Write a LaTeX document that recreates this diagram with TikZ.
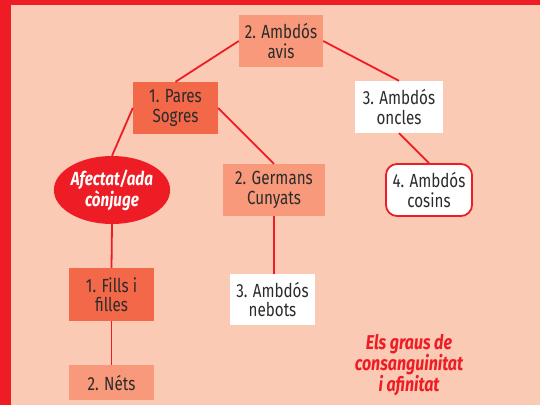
\documentclass[tikz,border=0pt]{standalone}
\usepackage{fontspec}
\setmainfont{Fira Sans}[FakeStretch=0.8]
\usetikzlibrary{shapes.geometric}
\definecolor{fons}{HTML}{FBCAB4}
\definecolor{vermell}{HTML}{EE1C25}
\definecolor{fosc}{HTML}{F26849}
\definecolor{clar}{HTML}{F7997A}
\definecolor{lletra}{HTML}{2B2B2B}
\tikzset{
	caixa/.style={minimum height=52pt, inner sep=0pt, align=center, text=lletra, font=\fontsize{19}{19.5}\selectfont},
	fosca/.style={caixa, fill=fosc},
	clara/.style={caixa, fill=clar},
	blanca/.style={caixa, fill=white},
	lligam/.style={draw=vermell, line width=1.8pt}
}

\begin{document}
\begin{tikzpicture}[x=1pt, y=-1pt]
			%%%%% START %%%%%
			
			\fill[fons] (0, 0) rectangle (540, 405);
			\fill[vermell] (0, 0) rectangle (11, 405);
			\fill[vermell] (0, 0) rectangle (540, 5);
			\useasboundingbox (0, 0) rectangle (540, 405);
			
			\node[clara, minimum width=84pt] (avis) at (281, 41) {2. Ambdós\\avis};
			\node[fosca, minimum width=85pt] (pares) at (175.5, 108) {1. Pares\\Sogres};
			\node[blanca, minimum width=88pt] (oncles) at (399, 107) {3. Ambdós\\oncles};
			
			\node[ellipse, fill=vermell, minimum width=101pt, minimum height=68pt, inner sep=0pt, align=center, text=white, font=\fontsize{19}{19.5}\selectfont\bfseries\itshape] (conjuge) at (112, 190) {Afectat/ada\\cònjuge};
			\node[clara, minimum width=102pt] (germans) at (274, 190) {2. Germans\\Cunyats};
			\node[blanca, minimum width=86pt, minimum height=52pt, draw=vermell, line width=1.8pt, rounded corners=11pt] (cosins) at (429, 190) {4. Ambdós\\cosins};
			
			\node[fosca, minimum width=85pt, minimum height=53pt] (fills) at (111.5, 294.5) {1. Fills i\\filles};
			\node[blanca, minimum width=85pt, minimum height=51pt] (nebots) at (272.5, 299.5) {3. Ambdós\\nebots};
			\node[clara, minimum width=85pt, minimum height=35pt] (nets) at (111.5, 382.5) {2. Néts};
			
			\draw[lligam] (avis.west) -- (pares.north);
			\draw[lligam] (avis.east) -- (oncles.north);
			\draw[lligam] (pares.west) -- (conjuge.north);
			\draw[lligam] (pares.east) -- (germans.north);
			\draw[lligam] (oncles.south) -- (cosins.north);
			\draw[lligam] (germans.south) -- (germans.south |- nebots.north);
			\draw[lligam] (conjuge.south) -- (fills.north);
			\draw[lligam] (fills.south) -- (nets.north);
			
			\node[align=center, text=vermell, font=\fontsize{20}{21.3}\selectfont\bfseries\itshape] (titol) at (409, 365) {Els graus de\\consanguinitat\\i afinitat};
			
			%%%%% END %%%%%
\end{tikzpicture}
\end{document}
